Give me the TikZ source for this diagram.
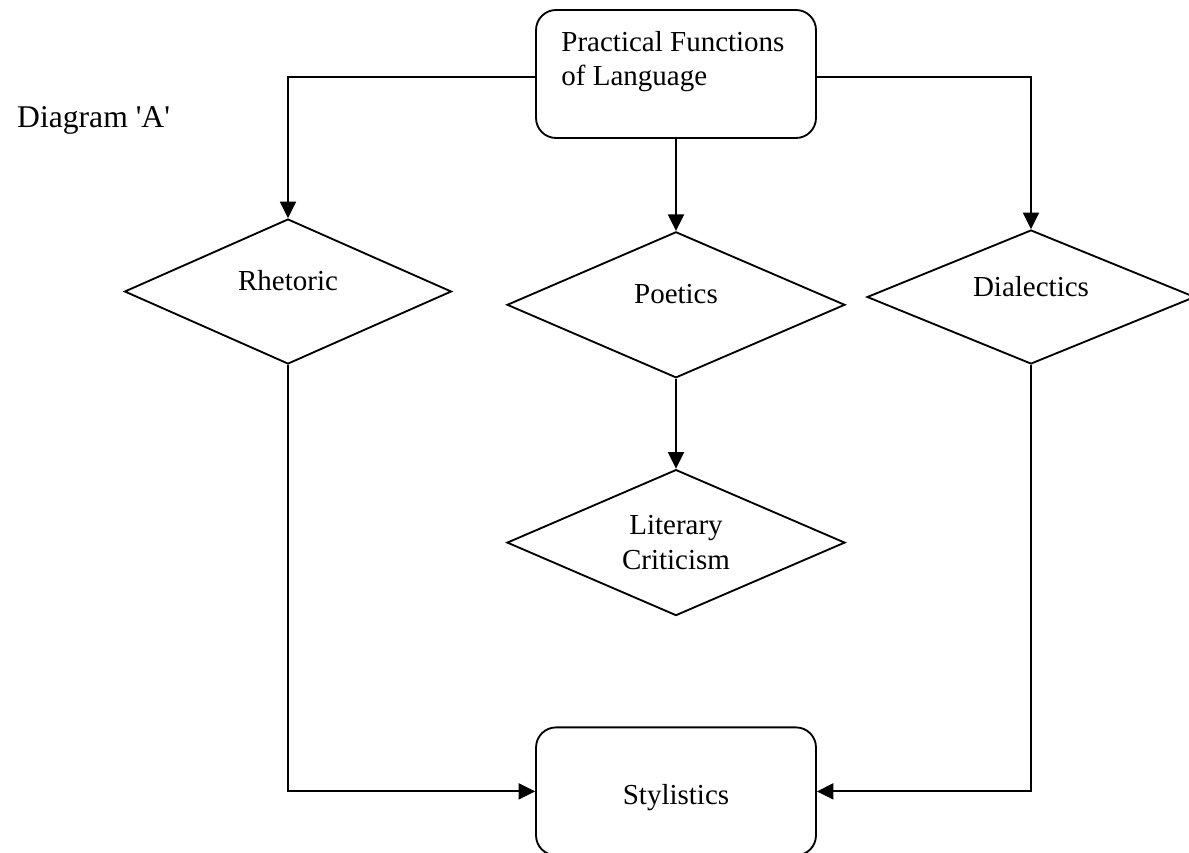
\documentclass[tikz,border=0pt]{standalone}
\usepackage{fontspec}
\setmainfont{Liberation Serif}
\usetikzlibrary{shapes.geometric,arrows.meta,positioning}

\begin{document}
\begin{tikzpicture}[
    x=0.02cm, y=-0.02cm,
    node distance=1.84cm,
    every node/.style={font=\fontsize{16.5}{19.5}\selectfont},
    box/.style={rectangle, draw, line width=1.05pt, rounded corners=0.4cm, minimum width=5.6cm, minimum height=2.56cm},
    choice/.style={diamond, draw, line width=1.05pt, aspect=2.3, inner sep=0pt},
    lift/.style={text height=0.35cm, text depth=0.39cm},
    arr/.style={-{Triangle[length=0.33cm, width=0.32cm]}, line width=1.05pt}
]
\useasboundingbox (0,0) rectangle (1189,852);

\node[anchor=base west, font=\fontsize{18}{21}\selectfont] (diaglabel) at (11,127) {Diagram \textquotesingle A\textquotesingle};

\node[box] (plf) at (676,74) {};
\node[anchor=north west, align=left, inner sep=0pt] (plftext) at ([xshift=0.52cm, yshift=-0.44cm]plf.north west) {Practical Functions\\of Language};

\node[choice, lift, minimum width=6.54cm, minimum height=2.9cm] (rhet) at (288,291.5) {Rhetoric};
\node[choice, lift, minimum width=6.76cm, minimum height=2.92cm, below=of plf] (poet) {Poetics};
\node[choice, lift, minimum width=6.56cm, minimum height=2.68cm] (dial) at (1031,297) {Dialectics};
\node[choice, align=center, minimum width=6.76cm, minimum height=2.92cm, below=1.8cm of poet] (litc) {Literary\\Criticism};
\node[box, text height=0.62cm, text depth=0.1cm, below=2.2cm of litc] (styl) {Stylistics};

\draw[arr] ([yshift=-0.06cm]plf.west) -| (rhet.north);
\draw[arr] ([yshift=-0.06cm]plf.east) -| (dial.north);
\draw[arr] (plf) -- (poet);
\draw[arr] (poet) -- (litc);
\draw[arr] (rhet.south) |- (styl.west);
\draw[arr] (dial.south) |- (styl.east);
\end{tikzpicture}
\end{document}
